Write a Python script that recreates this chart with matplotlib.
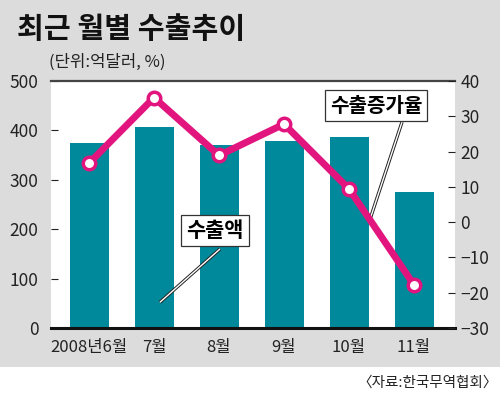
import matplotlib
matplotlib.use('Agg')
import matplotlib.pyplot as plt
from matplotlib.patches import Rectangle
import numpy as np

plt.rcParams['font.family'] = ['Noto Sans CJK KR', 'DejaVu Sans']

months = ['2008년6월', '7월', '8월', '9월', '10월', '11월']
exports = [374, 407, 370, 379, 386, 276]        # 억달러
growth = [16.7, 35.3, 18.9, 27.8, 9.4, -17.8]    # %

bar_color = '#00899a'
line_color = '#e2157f'
bg_color = '#dcdcdc'

fig = plt.figure(figsize=(5.0, 3.93), dpi=100)
fig.patch.set_facecolor('white')
fig.patches.append(Rectangle((0, 0.066), 1, 0.934, transform=fig.transFigure,
                             facecolor=bg_color, edgecolor='none', zorder=-10))

ax = fig.add_axes([0.102, 0.1654, 0.808, 0.6285])
ax.set_facecolor('white')
x = np.arange(len(months))
ax.bar(x, exports, width=0.6, color=bar_color, zorder=2)
ax.set_xlim(-0.585, 5.63)
ax.set_ylim(0, 500)
ax.set_yticks([0, 100, 200, 300, 400, 500])
ax.set_xticks(x)
ax.set_xticklabels(months)
ax.tick_params(axis='y', direction='in', length=5, width=0.8, pad=9,
               labelsize=12.5, colors='#222222')
ax.tick_params(axis='x', length=0, pad=8, labelsize=12, colors='#222222')
for s in ['left', 'right']:
    ax.spines[s].set_visible(False)
ax.spines['top'].set_color('#444444')
ax.spines['top'].set_linewidth(1.6)
ax.spines['bottom'].set_color('#111111')
ax.spines['bottom'].set_linewidth(2.2)

ax2 = ax.twinx()
ax2.plot(x, growth, color=line_color, lw=5, marker='o', ms=9,
         mfc='white', mec=line_color, mew=2.5, zorder=3)
ax2.set_ylim(-30, 40)
ax2.set_yticks(np.arange(-30, 41, 10))
ax2.tick_params(axis='y', direction='in', length=5, width=0.8, pad=4,
                labelsize=12.5, colors='#222222')
for s in ['left', 'right', 'top', 'bottom']:
    ax2.spines[s].set_visible(False)

# callout boxes with double leader lines
box = dict(boxstyle='square,pad=0.25', fc='white', ec='#333333', lw=0.9)

def leader(p0, p1):
    ax.plot([p0[0], p1[0]], [p0[1], p1[1]], color='#222222', lw=2.4,
            solid_capstyle='butt', zorder=5)
    ax.plot([p0[0], p1[0]], [p0[1], p1[1]], color='white', lw=1.0,
            solid_capstyle='butt', zorder=6)

leader((2.015, 160), (1.09, 52))
leader((4.815, 417), (4.32, 219))
ax.text(1.94, 197, '수출액', fontsize=15, fontweight='bold', ha='center',
        va='center', bbox=box, zorder=7)
ax.text(4.415, 451, '수출증가율', fontsize=14.5, fontweight='bold', ha='center',
        va='center', bbox=box, zorder=7)

fig.text(0.034, 0.925, '최근 월별 수출추이', fontsize=21, fontweight='bold',
         ha='left', va='center', color='#111111')
fig.text(0.098, 0.842, '(단위:억달러, %)', fontsize=12, ha='left',
         va='center', color='#222222')
fig.text(0.996, 0.025, '〈자료:한국무역협회〉', fontsize=10.5, ha='right',
         va='center', color='#222222')

fig.savefig('out.png', dpi=100)
